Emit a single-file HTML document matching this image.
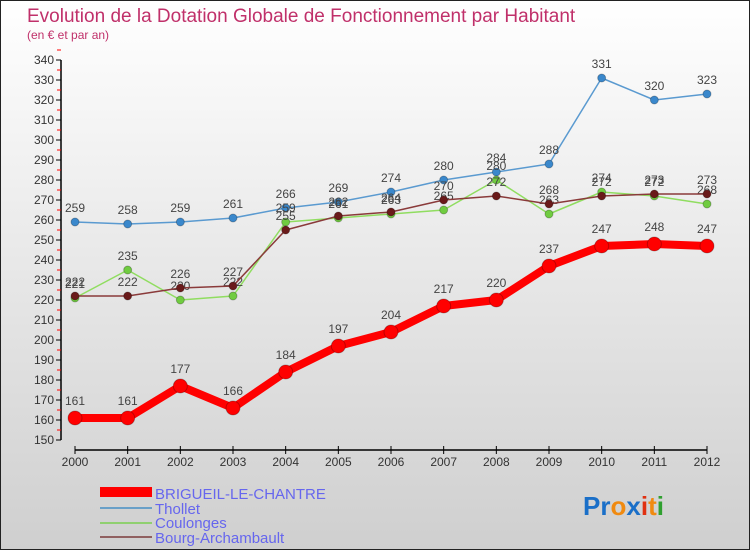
<!DOCTYPE html>
<html><head><meta charset="utf-8"><style>
body{margin:0;}
svg text{font-family:"Liberation Sans",sans-serif;}
</style></head><body>
<svg id="c" width="750" height="550" xmlns="http://www.w3.org/2000/svg">
<defs><linearGradient id="bg" x1="0" y1="0" x2="0" y2="1"><stop offset="0" stop-color="#ffffff"/><stop offset="1" stop-color="#cfcfcf"/></linearGradient></defs>
<rect x="0.5" y="0.5" width="749" height="549" fill="url(#bg)" stroke="#222"/>
<text x="27" y="22" font-size="19" fill="#c0306a">Evolution de la Dotation Globale de Fonctionnement par Habitant</text>
<text x="27" y="39" font-size="12" fill="#c0306a">(en € et par an)</text>
<g id="axes"></g><g id="series"></g>
<g>
<rect x="100" y="487" width="52" height="10" fill="#f00"/>
<text x="155" y="499" font-size="15" fill="#6666ee">BRIGUEIL-LE-CHANTRE</text>
<line x1="100" y1="508" x2="152" y2="508" stroke="#6aa0c8" stroke-width="2"/>
<text x="155" y="514" font-size="15" fill="#6666ee">Thollet</text>
<line x1="100" y1="523" x2="152" y2="523" stroke="#90d070" stroke-width="2"/>
<text x="155" y="528" font-size="15" fill="#6666ee">Coulonges</text>
<line x1="100" y1="537" x2="152" y2="537" stroke="#906060" stroke-width="2"/>
<text x="155" y="543" font-size="15" fill="#6666ee">Bourg-Archambault</text>
</g>
<text x="583" y="515" font-size="26" font-weight="bold"><tspan fill="#1a6fc8">Pr</tspan><tspan fill="#f08a10">o</tspan><tspan fill="#1a6fc8">x</tspan><tspan fill="#e03010">i</tspan><tspan fill="#f08a10">t</tspan><tspan fill="#30a030">i</tspan></text>
</svg>
<script>
const years=[2000,2001,2002,2003,2004,2005,2006,2007,2008,2009,2010,2011,2012];
const brigueil=[161,161,177,166,184,197,204,217,220,237,247,248,247];
const thollet=[259,258,259,261,266,269,274,280,284,288,331,320,323];
const coulonges=[221,235,220,222,259,261,263,265,280,263,274,272,268];
const bourg=[222,222,226,227,255,262,264,270,272,268,272,273,273];
const yTicks=[150,160,170,180,190,200,210,220,230,240,250,260,270,280,290,300,310,320,330,340];
const NS="http://www.w3.org/2000/svg";
const x=i=>75+i*(707-75)/(years.length-1);
const y=v=>440-(v-150)*2;
function mk(tag,at,parent){const e=document.createElementNS(NS,tag);for(const k in at)e.setAttribute(k,at[k]);parent.appendChild(e);return e;}
const ax=document.getElementById('axes');
const yl=mk('line',{x1:61,y1:y(340),x2:61,y2:y(150),stroke:'#000','stroke-width':1.5},ax);


yTicks.forEach(v=>{
  mk('line',{x1:56,y1:y(v),x2:61,y2:y(v),stroke:'#000'},ax);
  mk('line',{x1:57,y1:y(v+5),x2:61,y2:y(v+5),stroke:'#f00'},ax);
  const t=mk('text',{x:54,y:y(v)+4,'font-size':12,'text-anchor':'end',fill:'#333'},ax);
  t.textContent=v;
  
  
});
const xl=mk('line',{x1:x(0),y1:450,x2:x(12),y2:450,stroke:'#000','stroke-width':1.5},ax);


years.forEach((yr,i)=>{
  mk('line',{x1:x(i),y1:446,x2:x(i),y2:454,stroke:'#000'},ax);
  const t=mk('text',{x:x(i),y:466,'font-size':12,'text-anchor':'middle',fill:'#333'},ax);
  t.textContent=yr;
  
  
});
const sg=document.getElementById('series');
function series(vals,name,color,mcolor,w,r,fs,off){
  const g=mk('g',{},sg);
  
  
  const p=mk('polyline',{points:vals.map((v,i)=>x(i)+','+y(v)).join(' '),fill:'none',stroke:color,'stroke-width':w,'stroke-linejoin':'round'},g);
  
  
  vals.forEach((v,i)=>{
    const c=mk('circle',{cx:x(i),cy:y(v),r:r,fill:mcolor,stroke:'rgba(0,0,0,0.25)','stroke-width':1},g);
    
    
    const t=mk('text',{x:x(i),y:y(v)-off,'font-size':fs,'text-anchor':'middle',fill:'#444'},g);
    t.textContent=v;
    
    
  });
}
series(thollet,'thollet','#5a9ad0','#3a88cc',1.5,4,12,10);
series(coulonges,'coulonges','#90dd60','#70cc40',1.5,4,12,10);
series(bourg,'bourg','#8a3a3a','#6a1a1a',1.5,4,12,10);
series(brigueil,'brigueil','#f00','#f00',8,7,12,13);
</script>
</body></html>
